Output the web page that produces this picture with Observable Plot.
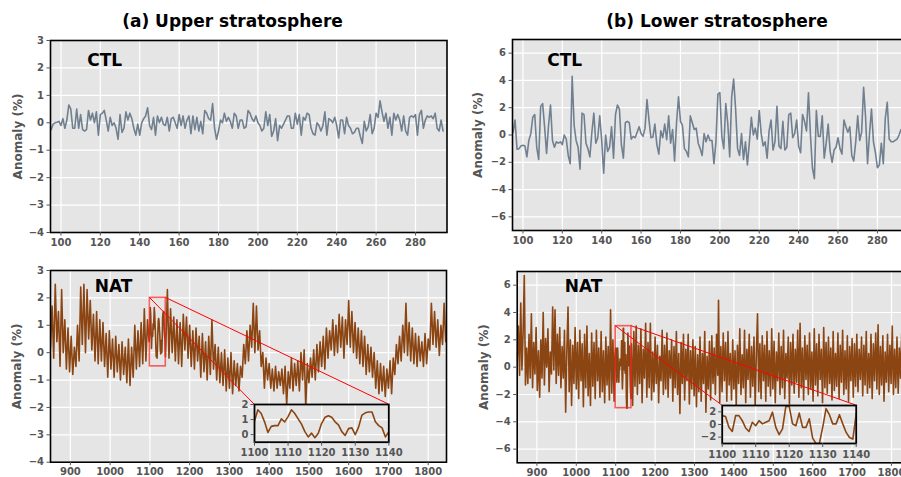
<!DOCTYPE html>
<html><head><meta charset="utf-8">
<script src="https://cdn.jsdelivr.net/npm/d3@7"></script>
<script src="https://cdn.jsdelivr.net/npm/@observablehq/plot@0.6"></script>
<style>
body{margin:0;background:#fff;}
#fig{position:relative;width:901px;height:477px;overflow:hidden;font-family:"DejaVu Sans",sans-serif;}
.panel{position:absolute;overflow:visible;}
.title{position:absolute;font-weight:bold;font-size:17px;line-height:17px;white-space:nowrap;transform:translateX(-50%);color:#000;}
</style></head><body><div id="fig"></div>
<script>
// ---------------- data ----------------
const titles = ["(a) Upper stratosphere", "(b) Lower stratosphere"];
const ctlStartYear = 95;
const ctlUpper = [-0.25,-0.05,0,0.02,0.05,-0.1,0.15,-0.2,0.1,0.65,0.5,-0.2,-0.2,0.5,-0.2,0.3,-0.25,-0.3,-0.25,0.45,0.1,0.35,0,0.4,-0.45,0.3,0.35,0.45,0.1,-0.3,0.2,-0.1,0,-0.2,-0.6,0.3,-0.35,-0.2,0.4,0.1,0.35,0.15,-0.2,-0.45,-0.05,-0.45,0,0.15,0.25,0.55,-0.1,-0.25,0.2,-0.45,0.25,0,0.2,-0.05,-0.1,0.2,-0.3,0.15,0.2,0,-0.2,0.3,-0.1,0.25,-0.2,0.1,0.25,-0.4,0.25,-0.25,0.2,-0.3,0.05,-0.4,0.45,0.35,0.15,0.1,0.7,-0.2,-0.6,-0.3,0.1,0,0.35,0.05,0.2,0.05,-0.2,0.35,0.25,-0.2,0.1,0.1,-0.2,-0.15,0.45,0.35,0.15,0.05,0.25,0,-0.1,-0.3,-0.2,0.4,-0.1,0.3,-0.5,-0.3,0.15,-0.65,-0.1,-0.2,-0.05,0.1,0.25,0.25,-0.2,-0.2,0.35,-0.05,0.3,-0.45,0.2,0.1,0.35,0.3,-0.2,-0.4,-0.45,0,-0.1,-0.3,-0.1,0.4,-0.45,0.15,0.1,0,0.2,-0.1,-0.55,0.1,0.1,-0.4,0.2,-0.1,-0.2,-0.4,-0.35,-0.2,-0.2,-0.5,-0.75,0.05,-0.3,-0.15,0.3,-0.4,-0.2,0.35,0.2,0.8,0.4,0.05,0.35,-0.2,0.2,-0.45,0.35,0.1,0.3,0.1,-0.3,0.25,-0.3,-0.45,0.2,0.25,0.2,0.3,-0.45,0.3,0.45,-0.2,0.1,0.25,0.2,0.25,0.15,0.35,-0.2,-0.3,0.1,-0.3];
const ctlLower = [0.2,1.1,-1.05,-1.0,-0.8,-0.75,-0.8,-1.6,-0.4,0.1,1.3,1.5,-0.9,-1.8,2.1,2.3,0.6,-1.35,0.7,2.2,-0.4,-0.9,-0.5,-0.6,-0.5,-0.7,0,-0.3,-1.5,-2.1,4.3,0.7,-0.4,-0.9,-2.5,1.6,1.5,-0.6,-1.0,-1.6,0.2,1.6,-0.6,-0.2,1.4,-0.4,-2.8,0,-1.2,-0.9,0.6,-1.7,1.5,2.2,1.9,-0.7,-1.7,0.9,1.0,0.9,-0.3,-0.1,-0.2,0.2,0.6,0.1,-0.1,0.5,2.6,1.1,-0.2,-0.15,0.8,-0.7,-1.4,0.3,-0.2,0.8,-0.35,1.4,-0.6,0.4,-1.9,0.9,2.8,1.0,0.7,-1.0,-1.2,-1.6,1.4,0.9,0.4,0.5,-0.6,-1.0,-1.5,0.1,-0.5,0,-0.4,-0.4,-2.1,-0.5,3.0,3.1,-0.1,-1.0,2.3,0.9,-1.6,2.8,4.1,1.9,-1.0,-1.5,0.1,-1.8,-0.5,-2.2,-0.5,1.3,0,0.5,-0.3,1.8,0.1,-0.8,-0.5,-1.7,0.3,1.1,-1.1,-0.5,2.1,-0.8,-1.0,1.0,-1.1,-0.9,1.5,1.6,-0.2,0.1,1.1,-0.8,-1.3,1.5,1.0,0.3,3.1,0,-2.4,-3.2,1.8,-0.1,-0.1,1.4,-1.7,-0.6,0.8,-1.2,-2.0,-1.1,-0.9,-0.2,-1.0,-1.4,1.1,0.6,0.2,0.6,-1.5,-1.9,-0.5,1.4,-0.4,0.2,3.5,1.3,-2.1,0.1,1.9,-0.5,-1.3,-2.4,-2.2,-0.6,-2.1,1.2,2.4,-0.3,-0.5,-0.5,-0.4,-0.3,0,0.4,0.2,-0.3,-0.5,-0.3];

// NAT upper stratosphere: [year, anomaly]
const natUpper = [[850,0.2],[854,1.7],[858,-0.2],[862,2.5],[866,0.4],[870,1.5],[874,-0.5],[878,2.3],[882,0.0],[886,1.2],[890,-0.6],[894,0.9],[898,-0.7],[902,0.6],[906,-0.8],[910,0.2],[914,-0.5],[918,1.0],[922,-0.3],[926,2.4],[930,0.3],[934,2.5],[938,0.0],[942,2.3],[946,0.5],[950,1.9],[954,0.1],[958,1.4],[962,-0.3],[966,1.5],[970,-0.4],[974,1.2],[978,-0.3],[982,1.1],[986,-0.5],[990,0.7],[994,-0.9],[998,0.8],[1002,-0.6],[1006,0.5],[1010,-0.9],[1014,0.6],[1018,-0.7],[1022,0.3],[1026,-1.0],[1030,0.4],[1034,-0.8],[1038,0.2],[1042,-1.1],[1046,0.5],[1050,-1.2],[1054,0.2],[1058,-0.9],[1062,1.0],[1066,-0.6],[1070,0.8],[1074,-0.5],[1078,1.1],[1082,-0.4],[1086,1.6],[1090,-0.3],[1094,1.2],[1098,0.4],
[1100,0.9],[1101,1.65],[1102,1.4],[1103,0.85],[1104,0.15],[1105,0.55],[1106,0.6],[1107,0.6],[1108,1.05],[1109,0.85],[1110,1.2],[1111,1.65],[1112,1.4],[1113,1.05],[1114,0.7],[1115,0.2],[1116,-0.15],[1117,0.1],[1118,-0.2],[1119,0.1],[1120,0.75],[1121,1.15],[1122,1.25],[1123,1.15],[1124,0.85],[1125,0.65],[1126,0.2],[1127,-0.05],[1128,0.4],[1129,0.45],[1130,0.0],[1131,0.5],[1132,1.3],[1133,1.45],[1134,1.5],[1135,1.5],[1136,0.85],[1137,0.6],[1138,0.45],[1139,-0.15],[1140,0.2],
[1144,2.3],[1148,-0.2],[1152,1.6],[1156,0.0],[1160,1.3],[1164,-0.3],[1168,1.2],[1172,-0.4],[1176,1.1],[1180,-0.5],[1184,1.4],[1188,0.1],[1192,1.3],[1196,-0.2],[1200,1.0],[1204,-0.5],[1208,0.8],[1212,-0.6],[1216,0.9],[1220,-0.3],[1224,0.6],[1228,-0.9],[1232,0.7],[1236,-0.7],[1240,0.4],[1244,-1.0],[1248,0.6],[1252,-0.8],[1256,1.2],[1260,-0.6],[1264,0.3],[1268,-1.0],[1272,0.2],[1276,-1.1],[1280,0.0],[1284,-1.2],[1288,0.1],[1292,-1.4],[1296,-0.2],[1300,-1.3],[1304,0.0],[1308,-1.5],[1312,-0.3],[1316,-1.2],[1320,-0.4],[1324,-1.4],[1328,-0.5],[1332,-0.9],[1336,0.3],[1340,-0.4],[1344,0.8],[1348,-0.3],[1352,1.0],[1356,0.2],[1360,1.8],[1364,0.0],[1368,1.7],[1372,0.1],[1376,0.8],[1380,-0.5],[1384,0.0],[1388,-1.3],[1392,-0.2],[1396,-1.0],[1400,-0.4],[1404,-1.3],[1408,-0.6],[1412,-1.4],[1416,-0.5],[1420,-1.3],[1424,-0.7],[1428,-1.2],[1432,-0.6],[1436,-1.5],[1440,-0.5],[1444,-1.9],[1448,-0.7],[1452,-1.3],[1456,-0.2],[1460,-1.4],[1464,-0.4],[1468,-1.2],[1472,-0.3],[1476,-1.4],[1480,0.0],[1484,-1.0],[1488,0.1],[1492,-2.0],[1496,-0.4],[1500,-1.1],[1504,-0.2],[1508,-0.9],[1512,0.1],[1516,-1.0],[1520,0.3],[1524,-0.7],[1528,0.4],[1532,-0.5],[1536,0.6],[1540,-0.6],[1544,0.9],[1548,-0.2],[1552,0.8],[1556,0.1],[1560,1.2],[1564,-0.1],[1568,1.0],[1572,0.0],[1576,1.4],[1580,0.2],[1584,1.3],[1588,-0.2],[1592,1.2],[1596,0.3],[1600,1.9],[1604,0.2],[1608,1.5],[1612,0.0],[1616,1.1],[1620,-0.2],[1624,0.9],[1628,-0.4],[1632,0.8],[1636,-0.5],[1640,0.6],[1644,-0.8],[1648,0.3],[1652,-0.7],[1656,0.2],[1660,-0.9],[1664,0.0],[1668,-1.3],[1672,-0.3],[1676,-1.5],[1680,-0.4],[1684,-1.4],[1688,-0.5],[1692,-1.6],[1696,-0.6],[1700,-1.3],[1704,-0.3],[1708,-1.5],[1712,-0.2],[1716,-0.8],[1720,0.3],[1724,-0.4],[1728,0.6],[1732,-0.3],[1736,1.0],[1740,0.0],[1744,1.8],[1748,-0.1],[1752,1.1],[1756,-0.3],[1760,0.9],[1764,-0.4],[1768,0.7],[1772,-0.5],[1776,0.6],[1780,-0.3],[1784,0.4],[1788,-0.5],[1792,0.7],[1796,-0.4],[1800,0.5],[1804,0.1],[1808,1.8],[1812,0.3],[1816,1.5],[1820,0.2],[1824,1.2],[1828,-0.1],[1832,1.0],[1836,0.3],[1840,1.8],[1844,0.4],[1846,0.8]];

// NAT lower stratosphere: [year, anomaly]
const natLower = [[850,0.5],[853,3.0],[856,-0.6],[859,4.7],[862,-0.2],[865,2.5],[868,6.7],[871,-1.3],[874,1.4],[877,-1.2],[880,2.4],[883,-0.8],[886,3.9],[889,-1.5],[892,1.8],[895,-0.5],[898,2.9],[901,-1.7],[904,1.2],[907,-2.2],[910,2.0],[913,-0.8],[916,4.0],[919,-1.3],[922,2.1],[925,0.0],[928,2.8],[931,-1.8],[934,1.1],[937,-0.5],[940,4.4],[943,-0.2],[946,4.2],[949,-1.2],[952,2.4],[955,-0.6],[958,2.9],[961,-1.5],[964,1.5],[967,-0.8],[970,2.7],[973,-3.3],[976,1.2],[979,4.4],[982,-1.8],[985,2.0],[988,-2.8],[991,1.6],[994,-1.2],[997,2.9],[1000,-1.6],[1003,1.8],[1006,-2.3],[1009,2.7],[1012,-1.0],[1015,1.7],[1018,-2.9],[1021,2.4],[1024,-1.5],[1027,3.0],[1030,-2.1],[1033,1.0],[1036,-2.8],[1039,2.5],[1042,-1.4],[1045,1.8],[1048,-2.3],[1051,2.7],[1054,-1.0],[1057,1.4],[1060,-2.2],[1063,2.6],[1066,-1.8],[1069,1.2],[1072,-2.6],[1075,2.2],[1078,-1.3],[1081,1.5],[1084,-2.4],[1087,4.2],[1090,-1.9],[1093,2.0],[1096,-2.5],[1098,0.8],
[1100,1.4],[1101,1.25],[1102,-0.45],[1103,-1.1],[1104,1.4],[1105,1.4],[1106,0.6],[1107,-0.55],[1108,-1.1],[1109,0.35],[1110,-0.2],[1111,0.6],[1112,0.1],[1113,0.35],[1114,0.6],[1115,1.95],[1116,-0.45],[1117,-1.6],[1118,-0.7],[1119,2.85],[1120,2.85],[1121,0.1],[1122,-0.2],[1123,1.8],[1124,-0.45],[1125,-0.45],[1126,0.9],[1127,-2.15],[1128,-3.0],[1129,-3.0],[1130,-0.45],[1131,2.5],[1132,1.55],[1133,0.1],[1134,0.1],[1135,1.55],[1136,0.1],[1137,-1.25],[1138,-2.05],[1139,-2.3],[1140,1.7],
[1143,-2.8],[1146,2.6],[1149,-1.4],[1152,3.0],[1155,-2.0],[1158,1.6],[1161,-1.2],[1164,2.8],[1167,-2.6],[1170,1.3],[1173,-0.8],[1176,3.2],[1179,-2.2],[1182,1.8],[1185,-1.5],[1188,3.2],[1191,-2.4],[1194,1.1],[1197,-1.8],[1200,2.2],[1203,-1.2],[1206,1.6],[1209,-2.6],[1212,0.8],[1215,-1.0],[1218,2.7],[1221,-2.0],[1224,1.6],[1227,-1.6],[1230,2.5],[1233,-2.2],[1236,1.2],[1239,-0.8],[1242,2.0],[1245,-2.5],[1248,1.5],[1251,-1.5],[1254,2.6],[1257,-2.0],[1260,1.0],[1263,-3.4],[1266,1.8],[1269,-1.2],[1272,2.4],[1275,-2.4],[1278,1.3],[1281,-1.0],[1284,2.4],[1287,-2.7],[1290,1.2],[1293,-1.6],[1296,2.0],[1299,-2.1],[1302,1.5],[1305,-2.9],[1308,0.9],[1311,-1.8],[1314,2.2],[1317,-2.5],[1320,1.0],[1323,-1.2],[1326,2.6],[1329,-3.3],[1332,0.8],[1335,-1.6],[1338,1.9],[1341,-2.4],[1344,2.3],[1347,-1.2],[1350,1.4],[1353,-2.0],[1356,2.4],[1359,-0.6],[1361,4.9],[1364,-2.6],[1367,1.5],[1370,-1.8],[1373,2.5],[1376,-1.0],[1379,1.8],[1382,-2.5],[1385,2.6],[1388,-1.3],[1391,1.0],[1394,-2.4],[1397,2.0],[1400,-1.6],[1403,1.2],[1406,-2.8],[1409,1.6],[1412,-1.2],[1415,2.8],[1418,-2.0],[1421,0.9],[1424,-1.5],[1427,2.7],[1430,-2.6],[1433,1.3],[1436,-0.9],[1439,2.4],[1442,-2.2],[1445,1.5],[1448,-1.4],[1451,2.2],[1454,-2.9],[1457,1.0],[1460,3.9],[1463,-1.8],[1466,1.7],[1469,-2.3],[1472,2.3],[1475,-1.0],[1478,1.6],[1481,-2.5],[1484,2.6],[1487,-1.4],[1490,1.2],[1493,-2.1],[1496,2.8],[1499,-1.6],[1502,1.9],[1505,-2.6],[1508,1.1],[1511,-1.0],[1514,2.5],[1517,-2.0],[1520,1.5],[1523,-1.5],[1526,2.7],[1529,-2.3],[1532,1.0],[1535,-0.8],[1538,2.2],[1541,-2.7],[1544,1.8],[1547,-1.3],[1550,2.4],[1553,-1.9],[1556,1.3],[1559,-1.1],[1562,2.7],[1565,-2.2],[1568,3.2],[1571,-1.5],[1574,1.4],[1577,-2.4],[1580,2.3],[1583,-0.9],[1586,1.6],[1589,-2.0],[1592,2.5],[1595,-1.6],[1598,1.1],[1601,-2.5],[1604,2.8],[1607,-1.3],[1610,1.7],[1613,-2.1],[1616,2.4],[1619,-0.9],[1622,1.3],[1625,-2.6],[1628,2.9],[1631,-1.5],[1634,1.8],[1637,-1.9],[1640,2.2],[1643,-1.2],[1646,1.4],[1649,-2.4],[1652,2.6],[1655,-1.7],[1658,1.0],[1661,-1.4],[1664,2.5],[1667,-2.3],[1670,1.6],[1673,-1.1],[1676,2.7],[1679,-2.0],[1682,1.2],[1685,-1.6],[1688,2.3],[1691,-2.5],[1694,1.5],[1697,-1.0],[1700,2.1],[1703,-2.2],[1706,1.7],[1709,-1.4],[1712,2.4],[1715,-1.8],[1718,1.3],[1721,-0.9],[1724,2.2],[1727,-2.1],[1730,1.6],[1733,-1.3],[1736,2.6],[1739,-1.9],[1742,1.0],[1745,-1.5],[1748,2.4],[1751,-2.3],[1754,1.7],[1757,-1.0],[1760,2.5],[1763,-1.6],[1766,3.1],[1769,-2.0],[1772,1.5],[1775,-1.3],[1778,2.3],[1781,-2.5],[1784,1.1],[1787,-1.1],[1790,2.4],[1793,-1.8],[1796,1.6],[1799,-1.2],[1802,3.0],[1805,-2.0],[1808,1.3],[1811,-1.5],[1814,2.2],[1817,-1.9],[1820,1.4],[1823,-0.8],[1826,2.5],[1829,-1.6],[1832,1.2],[1835,-1.4],[1838,2.3],[1841,-2.0],[1844,1.0],[1846,-0.5]];

const ctlXTicks = [100,120,140,160,180,200,220,240,260,280];
const natXTicks = [900,1000,1100,1200,1300,1400,1500,1600,1700,1800];
const upperYTicks = [-4,-3,-2,-1,0,1,2,3];
const lowerYTicks = [-6,-4,-2,0,2,4,6];
const insetXTicks = [1100,1110,1120,1130,1140];
const insetUpperYTicks = [0,1,2];
const insetLowerYTicks = [-2,0,2];
const zoomYears = [1100,1140];
const zoomUpperY = [-0.5,2];
const zoomLowerY = [-3,3];
const ctlXDomain = [94.7,296];
const natXDomain = [850,1846];
const upperYDomain = [-4,3];
const lowerYDomain = [-7,7];
const colors = {ctl:"#708090", nat:"#8B4513"};

// ---------------- drawing ----------------
const fig = document.getElementById("fig");
const minus = d => d < 0 ? "\u2212" + Math.abs(d) : String(d);
const ctlRows = arr => arr.map((v, i) => ({year: ctlStartYear + i, value: v}));
const pairRows = arr => arr.map(([year, value]) => ({year, value}));

function place(el, left, top) {
  el.classList.add("panel");
  el.style.left = left + "px";
  el.style.top = top + "px";
  fig.appendChild(el);
  return el;
}

function mainPanel(o) {
  const marks = [
    Plot.frame({fill:"#e5e5e5"}),
    Plot.gridX(o.xTicks, {stroke:"white", strokeOpacity:1, strokeWidth:1.2}),
    Plot.gridY(o.yTicks, {stroke:"white", strokeOpacity:1, strokeWidth:1.2}),
    Plot.lineY(o.rows, {x:"year", y:"value", stroke:o.color, strokeWidth:1.6, clip:true})
  ];
  if (o.box) marks.push(Plot.rect([o.box], {x1:"x1", x2:"x2", y1:"y1", y2:"y2", fill:"none", stroke:"#ff2020", strokeOpacity:0.7, strokeWidth:1.6}));
  marks.push(
    Plot.frame({stroke:"black", strokeWidth:1.6}),
    Plot.axisX(o.xTicks, {tickSize:3.5, tickPadding:2.5, tickFormat:d=>String(d), label:null, fontWeight:"bold"}),
    Plot.axisY(o.yTicks, {tickSize:3.5, tickPadding:3, tickFormat:minus, label:null, fontWeight:"bold"}),
    Plot.text([o.label], {frameAnchor:"top-left", dx:o.labelDx, dy:o.labelDy, textAnchor:"start", lineAnchor:"middle", fontSize:17, fontWeight:"bold", fill:"black"}),
    Plot.text(["Anomaly (%)"], {frameAnchor:"left", dx:o.yLabelDx, rotate:-90, textAnchor:"middle", lineAnchor:"middle", fontSize:12, fontWeight:"bold", fill:"#555"})
  );
  const p = Plot.plot({
    width:o.width, height:o.height,
    marginLeft:o.mL, marginRight:o.mR, marginTop:o.mT, marginBottom:o.mB,
    x:{domain:o.xDomain}, y:{domain:o.yDomain},
    style:{fontFamily:"DejaVu Sans", fontSize:"10px", fontWeight:"bold", color:"#555", background:"transparent", overflow:"visible"},
    marks
  });
  return place(p, o.left, o.top);
}

function insetPanel(o) {
  const p = Plot.plot({
    width:o.width, height:o.height,
    marginLeft:o.mL, marginRight:o.mR, marginTop:o.mT, marginBottom:o.mB,
    x:{domain:zoomYears}, y:{domain:o.yDomain},
    style:{fontFamily:"DejaVu Sans", fontSize:"10px", fontWeight:"bold", color:"#555", background:"transparent", overflow:"visible"},
    marks:[
      Plot.frame({fill:"#e5e5e5"}),
      Plot.gridX(insetXTicks, {stroke:"white", strokeOpacity:1, strokeWidth:1.2}),
      Plot.gridY(o.yTicks, {stroke:"white", strokeOpacity:1, strokeWidth:1.2}),
      Plot.lineY(o.rows.filter(d => d.year >= zoomYears[0] && d.year <= zoomYears[1]), {x:"year", y:"value", stroke:colors.nat, strokeWidth:1.6, clip:true}),
      Plot.frame({stroke:"black", strokeWidth:1.8}),
      Plot.axisX(insetXTicks, {tickSize:4, tickPadding:3, tickFormat:d=>String(d), label:null, fontWeight:"bold"}),
      Plot.axisY(o.yTicks, {tickSize:3.5, tickPadding:2.5, tickFormat:minus, label:null, fontWeight:"bold"})
    ]
  });
  return place(p, o.left, o.top);
}

titles.forEach((t, i) => {
  const d = document.createElement("div");
  d.className = "title";
  d.textContent = t;
  d.style.left = (i === 0 ? 232.5 : 717) + "px";
  d.style.top = "12.5px";
  fig.appendChild(d);
});

const natU = pairRows(natUpper), natL = pairRows(natLower);

const pA = {left:0, top:30, width:460, height:232, mL:50, mR:13.5, mT:10, mB:30};
mainPanel({...pA, rows:ctlRows(ctlUpper), xTicks:ctlXTicks, yTicks:upperYTicks, xDomain:ctlXDomain, yDomain:upperYDomain, color:colors.ctl, label:"CTL", labelDx:36.7, labelDy:20.5, yLabelDx:-32.5});

const pB = {left:450, top:29, width:460, height:232, mL:62, mR:1.6, mT:10, mB:31};
mainPanel({...pB, rows:ctlRows(ctlLower), xTicks:ctlXTicks, yTicks:lowerYTicks, xDomain:ctlXDomain, yDomain:lowerYDomain, color:colors.ctl, label:"CTL", labelDx:34.7, labelDy:21.5, yLabelDx:-34});

const pC = {left:0, top:260, width:460, height:217, mL:50, mR:14, mT:10, mB:15.3};
const boxU = {x1:zoomYears[0], x2:zoomYears[1], y1:zoomUpperY[0], y2:zoomUpperY[1]};
const plotC = mainPanel({...pC, rows:natU, xTicks:natXTicks, yTicks:upperYTicks, xDomain:natXDomain, yDomain:upperYDomain, color:colors.nat, label:"NAT", labelDx:44.3, labelDy:16, yLabelDx:-33, box:boxU});

const pD = {left:450, top:261, width:460, height:216, mL:66.7, mR:0.9, mT:10, mB:14.7};
const boxL = {x1:zoomYears[0], x2:zoomYears[1], y1:zoomLowerY[0], y2:zoomLowerY[1]};
const plotD = mainPanel({...pD, rows:natL, xTicks:natXTicks, yTicks:lowerYTicks, xDomain:natXDomain, yDomain:lowerYDomain, color:colors.nat, label:"NAT", labelDx:47.6, labelDy:15, yLabelDx:-32.7, box:boxL});

// connector overlay
const overlay = d3.create("svg").attr("width", 901).attr("height", 477)
  .style("position","absolute").style("left","0px").style("top","0px").style("pointer-events","none");
fig.appendChild(overlay.node());

const iC = {left:230, top:398, width:170, height:70, mL:24, mR:11.7, mT:6, mB:26.3};
const insetC = insetPanel({...iC, rows:natU, yDomain:zoomUpperY, yTicks:insetUpperYTicks});
const iD = {left:690, top:398, width:180, height:75, mL:31.7, mR:14.3, mT:7, mB:30};
const insetD = insetPanel({...iD, rows:natL, yDomain:zoomLowerY, yTicks:insetLowerYTicks});

function connect(main, mPos, inset, iPos, boxTop) {
  const mx = main.scale("x"), my = main.scale("y");
  const ix = inset.scale("x"), iy = inset.scale("y");
  zoomYears.forEach(yr => {
    overlay.append("line")
      .attr("x1", mPos.left + mx.apply(yr)).attr("y1", mPos.top + my.apply(boxTop))
      .attr("x2", iPos.left + ix.apply(yr)).attr("y2", iPos.top + iy.apply(boxTop))
      .attr("stroke", "red").attr("stroke-width", 1);
  });
}
connect(plotC, pC, insetC, iC, zoomUpperY[1]);
connect(plotD, pD, insetD, iD, zoomLowerY[1]);
</script></body></html>
